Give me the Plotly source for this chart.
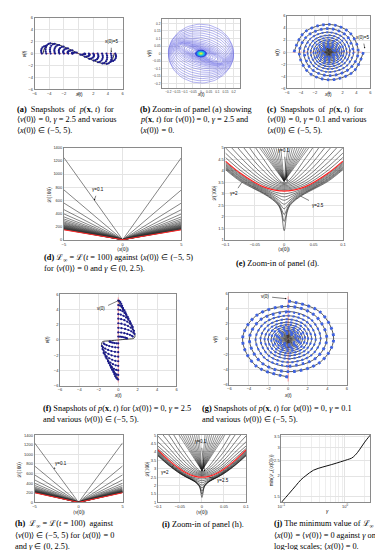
import numpy as np
import plotly.graph_objects as go

W, H = 383, 550

# ---------------- data ----------------
# (a) gamma = 2.5, <v(0)> = 0, various <x(0)>
a_curve_x = [-4.85, -4.6, -4.2, -3.8, -3.2, -2.4, -1.6, -0.8, 0.0, 0.8, 1.6, 2.4, 3.2, 3.8, 4.2, 4.6, 4.85]
a_curve_v = [0.0, 1.0, 1.55, 1.72, 1.65, 1.35, 0.95, 0.5, 0.0, -0.5, -0.95, -1.35, -1.65, -1.72, -1.55, -1.0, 0.0]
a_hook_x0 = [-5.0, -4.4, -3.8, -3.2, -2.6, -2.0, -1.4, -0.8, 0.8, 1.4, 2.0, 2.6, 3.2, 3.8, 4.4, 5.0]
a_hook_h = [1.3, 1.72, 1.65, 1.45, 1.17, 0.87, 0.53, 0.18, -0.18, -0.53, -0.87, -1.17, -1.45, -1.65, -1.72, -1.3]
a_hook_dx = [0.0, -0.08, -0.1, -0.05, 0.08, 0.3, 0.55]
a_hook_fr = [0.0, 0.2, 0.4, 0.6, 0.8, 0.95, 1.0]

# (b) zoom-in: covariance ellipses (semi-axes, tilt in degrees)
b_major = [0.20, 0.20, 0.195, 0.19, 0.185, 0.18, 0.175, 0.17, 0.165, 0.16, 0.155, 0.15, 0.145, 0.14, 0.13, 0.12, 0.11, 0.095, 0.08, 0.065, 0.05, 0.04]
b_minor = [0.195, 0.18, 0.165, 0.15, 0.135, 0.12, 0.105, 0.092, 0.08, 0.07, 0.062, 0.055, 0.048, 0.043, 0.038, 0.034, 0.03, 0.026, 0.022, 0.019, 0.016, 0.013]
b_tilt = [3, 6, 8, 10, 12, 14, 16, 17, 18, 19, 20, 21, 21, 22, 22, 22, 22, 22, 22, 22, 22, 22]
b_blob_rx = [0.036, 0.027, 0.019, 0.012, 0.006]
b_blob_ry = [0.025, 0.019, 0.014, 0.009, 0.0045]
b_blob_col = ['#2b3fd8', '#1f90ea', '#2ad2c4', '#98e25a', '#f6e83a']

# (c) gamma = 0.1 spiral: axis-crossing amplitudes, quarter turn by quarter turn
c_amp = [5.0, 4.6, 4.25, 3.9, 3.6, 3.3, 3.05, 2.8, 2.6, 2.4, 2.2, 2.03, 1.88, 1.73, 1.6, 1.47,
         1.35, 1.24, 1.14, 1.05, 0.97, 0.89, 0.82, 0.75, 0.69, 0.63, 0.57, 0.52, 0.47, 0.42,
         0.38, 0.34, 0.30, 0.26, 0.22, 0.18, 0.14, 0.10, 0.06]
# (g) gamma = 0.1 spiral started on the v axis
g_amp = [5.0, 4.65, 4.3, 3.95, 3.62, 3.32, 3.06, 2.82, 2.6, 2.4, 2.21, 2.04, 1.88, 1.73, 1.6, 1.47,
         1.35, 1.24, 1.14, 1.05, 0.97, 0.89, 0.82, 0.75, 0.69, 0.63, 0.57, 0.52, 0.47, 0.42,
         0.38, 0.34, 0.30, 0.26, 0.22, 0.18, 0.14, 0.10, 0.06]

# (d) L(100) at <x(0)> = +-5 for the gamma family, and the red (gamma = 2) line
d_end = [1250, 760, 560, 460, 395, 350, 318, 293, 272, 256, 242, 230, 220, 211, 203, 196, 190, 185, 180, 175, 171, 167, 164, 161, 158]
d_red_end = 153
d_vertex = 3

# (e) zoom-in of (d): half-curve values at these |<x(0)>|
e_xh = [0.0, 0.005, 0.01, 0.02, 0.035, 0.05, 0.075, 0.1]
e_red = [3.12, 3.124, 3.136, 3.18, 3.30, 3.49, 3.90, 4.42]
e_low = [
    [3.00, 3.01, 3.04, 3.11, 3.26, 3.45, 3.86, 4.37],
    [2.87, 2.89, 2.94, 3.04, 3.22, 3.41, 3.81, 4.32],
    [2.72, 2.76, 2.84, 2.98, 3.18, 3.37, 3.76, 4.27],
    [2.55, 2.62, 2.74, 2.92, 3.14, 3.33, 3.72, 4.22],
    [2.35, 2.48, 2.66, 2.87, 3.10, 3.29, 3.67, 4.17],
    [2.10, 2.36, 2.59, 2.82, 3.06, 3.26, 3.63, 4.13],
    [1.80, 2.27, 2.54, 2.78, 3.03, 3.23, 3.59, 4.09],
    [1.40, 2.20, 2.50, 2.75, 3.00, 3.20, 3.55, 4.05]]
e_up = [
    [3.16, 3.165, 3.18, 3.23, 3.37, 3.58, 4.03, 4.58],
    [3.20, 3.21, 3.23, 3.29, 3.45, 3.69, 4.18, 4.77],
    [3.25, 3.26, 3.28, 3.36, 3.55, 3.82, 4.37, 5.0],
    [3.30, 3.31, 3.34, 3.44, 3.67, 3.98, 4.60, 5.3],
    [3.35, 3.36, 3.40, 3.53, 3.81, 4.17, 4.88, 5.65],
    [3.40, 3.42, 3.47, 3.64, 3.99, 4.40, 5.2, 6.0],
    [3.44, 3.47, 3.55, 3.78, 4.21, 4.68, 5.6, 6.5],
    [3.48, 3.52, 3.64, 3.95, 4.50, 5.05, 6.1, 7.1]]
e_steep_xt = [0.006, 0.010, 0.014, 0.018, 0.022, 0.026, 0.030, 0.034, 0.038, 0.042]
e_steep_min = 3.55

# (f) gamma = 2.5, <x(0)> = 0, various <v(0)>
f_curve_x = [0.0, 0.3, 0.6, 1.0, 1.35, 1.6, 1.72, 1.6, 1.0, 0.4, 0.0, -0.4, -1.0, -1.6, -1.72, -1.6, -1.35, -1.0, -0.6, -0.3, 0.0]
f_curve_v = [5.2, 4.4, 3.7, 2.8, 1.9, 1.1, 0.45, 0.22, 0.12, 0.05, 0.0, -0.05, -0.12, -0.22, -0.45, -1.1, -1.9, -2.8, -3.7, -4.4, -5.2]
f_hook_v0 = [5.2, 4.6, 4.0, 3.4, 2.8, 2.2, 1.6, 1.0, 0.45, -0.45, -1.0, -1.6, -2.2, -2.8, -3.4, -4.0, -4.6, -5.2]
f_hook_w = [0.5, 0.8, 1.05, 1.3, 1.5, 1.62, 1.68, 1.5, 0.9, -0.9, -1.5, -1.68, -1.62, -1.5, -1.3, -1.05, -0.8, -0.5]
f_hook_drop = [1.2, 1.2, 1.2, 1.2, 1.1, 1.0, 0.8, 0.55, 0.25, -0.25, -0.55, -0.8, -1.0, -1.1, -1.2, -1.2, -1.2, -1.2]
f_hook_fx = [0.0, 0.2, 0.42, 0.62, 0.8, 0.93, 1.0]
f_hook_fd = [0.0, 0.05, 0.18, 0.36, 0.58, 0.8, 1.0]

# (h) L(100) at <v(0)> = +-5
h_end = [1240, 760, 575, 470, 400, 355, 322, 300, 283, 270, 259, 250, 243, 237, 232, 227, 223, 219, 216, 213, 210, 208]
h_red_end = 202
h_vertex = 3

# (i) zoom-in of (h)
i_red = [2.50, 2.505, 2.52, 2.58, 2.75, 2.99, 3.50, 4.12]
i_low = [
    [2.40, 2.41, 2.43, 2.50, 2.68, 2.92, 3.44, 4.06],
    [2.29, 2.31, 2.35, 2.44, 2.63, 2.87, 3.39, 4.00],
    [2.17, 2.21, 2.27, 2.39, 2.59, 2.83, 3.34, 3.95],
    [2.03, 2.10, 2.20, 2.35, 2.56, 2.80, 3.30, 3.90],
    [1.87, 2.01, 2.15, 2.32, 2.53, 2.77, 3.26, 3.86],
    [1.68, 1.95, 2.12, 2.31, 2.51, 2.75, 3.23, 3.82],
    [1.50, 1.92, 2.11, 2.30, 2.50, 2.73, 3.21, 3.79],
    [1.30, 1.90, 2.10, 2.30, 2.50, 2.72, 3.20, 3.77]]
i_up = [
    [2.55, 2.555, 2.57, 2.64, 2.82, 3.08, 3.62, 4.20],
    [2.60, 2.61, 2.63, 2.71, 2.91, 3.19, 3.78, 4.35],
    [2.65, 2.66, 2.69, 2.79, 3.02, 3.33, 3.98, 4.6],
    [2.70, 2.71, 2.75, 2.88, 3.15, 3.51, 4.24, 4.95],
    [2.75, 2.77, 2.82, 2.98, 3.32, 3.74, 4.57, 5.4],
    [2.80, 2.83, 2.90, 3.11, 3.54, 4.03, 5.0, 5.9],
    [2.84, 2.88, 2.99, 3.28, 3.82, 4.40, 5.5, 6.6]]
i_steep_xt = [0.007, 0.012, 0.017, 0.022, 0.027, 0.032, 0.037, 0.042, 0.047, 0.052]
i_steep_min = 2.9

# (j) minimum of L_inf against gamma (log-log)
j_gamma = [0.1, 0.13, 0.17, 0.204, 0.243, 0.32, 0.45, 0.62, 0.85, 1.1, 1.27, 1.43, 1.58, 1.80, 2.04, 2.3, 2.5]
j_min = [1.38, 1.55, 1.75, 1.90, 2.01, 2.17, 2.27, 2.35, 2.44, 2.52, 2.57, 2.67, 2.79, 3.0, 3.22, 3.42, 3.55]

# ---------------- figure ----------------
fig = go.Figure()


def xr(n):
    return 'x' if n == 1 else f'x{n}'


def yr(n):
    return 'y' if n == 1 else f'y{n}'


def trace(n, x, y, color='#000', width=0.6, dash=None, shape='linear', smoothing=1.0,
          mode='lines', marker=None):
    ld = dict(color=color, width=width, shape=shape)
    if shape == 'spline':
        ld['smoothing'] = smoothing
    if dash:
        ld['dash'] = dash
    kw = dict(x=x, y=y, xaxis=xr(n), yaxis=yr(n), mode=mode, line=ld,
              showlegend=False, hoverinfo='skip')
    if marker:
        kw['marker'] = marker
    fig.add_trace(go.Scatter(**kw))


def mirror(xh, vals):
    xs = [-v for v in xh[:0:-1]] + list(xh)
    ys = list(vals[:0:-1]) + list(vals)
    return xs, ys


def spiral_pts(amps, quad, sign=1):
    """axis crossings plus the 45-degree point between consecutive crossings"""
    xs, ys = [], []
    for k, a in enumerate(amps):
        ux, uy = quad[k % 4]
        xs.append(sign * a * ux)
        ys.append(sign * a * uy)
        if k + 1 < len(amps):
            vx, vy = quad[(k + 1) % 4]
            b = amps[k + 1]
            xs.append(sign * 0.7071 * (a * ux + b * vx))
            ys.append(sign * 0.7071 * (a * uy + b * vy))
    return xs, ys


NAVY = '#1c1c8a'
BLUE = '#3f63e0'

# (a)
trace(1, [-5.2, 5.2], [0, 0], color='#ff7070', width=0.6, dash='dot')
trace(1, a_curve_x, a_curve_v, color='#111', width=0.8, shape='spline')
hx, hy = [], []
for x0, h in zip(a_hook_x0, a_hook_h):
    s = 1 if x0 < 0 else -1
    for dx, fr in zip(a_hook_dx, a_hook_fr):
        hx.append(x0 + s * dx)
        hy.append(h * fr)
    hx.append(None)
    hy.append(None)
trace(1, hx, hy, color=NAVY, width=0.7, shape='spline', mode='lines+markers',
      marker=dict(size=2.2, color=NAVY))

# (b)
tt = np.linspace(0, 2 * np.pi, 73)
bx, by = [], []
for a, b, tilt in zip(b_major, b_minor, b_tilt):
    th = np.deg2rad(tilt)
    ex = a * np.cos(tt) * np.cos(th) + b * np.sin(tt) * np.sin(th)
    ey = -a * np.cos(tt) * np.sin(th) + b * np.sin(tt) * np.cos(th)
    bx += list(ex) + [None]
    by += list(ey) + [None]
trace(2, bx, by, color='rgba(70,70,220,0.75)', width=0.55)

# (c)
quad_c = [(1, 0), (0, -1), (-1, 0), (0, 1)]
trace(3, [-5.2, 5.2], [0, 0], color='#ff7070', width=0.6, dash='dot')
c_sp = [spiral_pts(c_amp, quad_c, 1), spiral_pts(c_amp, quad_c, -1)]
for sx, sy in c_sp:
    trace(3, sx, sy, color='#111', width=0.7, shape='spline')
for sx, sy in c_sp:
    trace(3, sx[:9], sy[:9], color=BLUE, width=2.7, shape='spline', dash='2.4px,3.6px')
    trace(3, sx[8:50], sy[8:50], color=BLUE, width=1.8, shape='spline', dash='2px,2.6px')

# (d)
for v in d_end:
    trace(4, [-5, 0, 5], [v, d_vertex, v], color='#333', width=0.6)
trace(4, [-5, 0, 5], [d_red_end, d_vertex, d_red_end], color='#ff2a2a', width=1.0)

# (e)
for xt in e_steep_xt:
    trace(5, [-xt, 0, xt], [5.0, e_steep_min, 5.0], color='#222', width=0.5)
for vals in e_up + e_low:
    xs, ys = mirror(e_xh, vals)
    trace(5, xs, ys, color='#111', width=0.55, shape='spline')
xs, ys = mirror(e_xh, e_red)
trace(5, xs, ys, color='#ff1f1f', width=1.2, shape='spline')

# (f)
trace(6, [0, 0], [-5.6, 5.6], color='#ff6060', width=0.6)
trace(6, f_curve_x, f_curve_v, color='#111', width=0.8, shape='spline')
fx, fy = [], []
for v0, w, dr in zip(f_hook_v0, f_hook_w, f_hook_drop):
    for a, d in zip(f_hook_fx, f_hook_fd):
        fx.append(w * a)
        fy.append(v0 - dr * d)
    fx.append(None)
    fy.append(None)
trace(6, fx, fy, color=NAVY, width=0.7, shape='spline', mode='lines+markers',
      marker=dict(size=2.2, color=NAVY))

# (g)
quad_g = [(0, 1), (1, 0), (0, -1), (-1, 0)]
trace(7, [0, 0], [-5.6, 5.6], color='#ff6060', width=0.6)
g_sp = [spiral_pts(g_amp, quad_g, 1), spiral_pts(g_amp, quad_g, -1)]
for sx, sy in g_sp:
    trace(7, sx, sy, color='#111', width=0.7, shape='spline')
for sx, sy in g_sp:
    trace(7, sx[:9], sy[:9], color=BLUE, width=2.9, shape='spline', dash='2.6px,4px')
    trace(7, sx[8:50], sy[8:50], color=BLUE, width=2.0, shape='spline', dash='2.2px,2.8px')

# (h)
for v in h_end:
    trace(8, [-5, 0, 5], [v, h_vertex, v], color='#333', width=0.6)
trace(8, [-5, 0, 5], [h_red_end, h_vertex, h_red_end], color='#ff2a2a', width=1.0)

# (i)
for xt in i_steep_xt:
    trace(9, [-xt, 0, xt], [5.0, i_steep_min, 5.0], color='#222', width=0.5)
for vals in i_up + i_low:
    xs, ys = mirror(e_xh, vals)
    trace(9, xs, ys, color='#111', width=0.55, shape='spline')
xs, ys = mirror(e_xh, i_red)
trace(9, xs, ys, color='#ff1f1f', width=1.2, shape='spline')

# (j)
trace(10, j_gamma, j_min, color='#111', width=1.0, shape='spline')

# ---------------- axes ----------------
TICKF = dict(size=4, color='#333', family='Liberation Sans')


def axis(domain, rng, tickvals, anchor, ticktext=None, typ='linear', fsize=4):
    d = dict(domain=domain, range=rng, tickvals=tickvals, anchor=anchor, type=typ,
             showgrid=True, gridcolor='#e4e4e4', gridwidth=0.5,
             showline=True, linecolor='#8a8a8a', linewidth=0.6, mirror=True,
             ticks='', tickfont=dict(TICKF, size=fsize), tickangle=0, zeroline=False,
             fixedrange=True)
    if ticktext is not None:
        d['ticktext'] = ticktext
    return d


six = [-6, -4, -2, 0, 2, 4, 6]
bt = [-0.2, -0.15, -0.1, -0.05, 0, 0.05, 0.1, 0.15, 0.2]
lt = list(range(0, 1401, 200))
et = [-0.1, -0.05, 0, 0.05, 0.1]
eyt = [1, 1.5, 2, 2.5, 3, 3.5, 4, 4.5, 5]
panels = [
    # n, left, right, top, bottom, xrange, yrange, xticks, yticks, fontsize
    (1, 23, 113, 7, 79, [-6, 6], [-6, 6], six, six, 4),
    (2, 153, 233, 8, 78, [-0.24, 0.24], [-0.23, 0.23], bt, bt, 3.1),
    (3, 281, 366, 5, 78, [-6, 6], [-6, 6], six, six, 4),
    (4, 53, 173, 138, 231, [-5, 5], [0, 1400], [-5, 0, 5], lt, 4),
    (5, 218, 338, 138, 231, [-0.1, 0.1], [1, 5], et, eyt, 4),
    (6, 49, 168, 286, 378, [-6, 6], [-6, 6], six, six, 4),
    (7, 222, 342, 285, 377, [-6, 6], [-6, 6], six, six, 4),
    (8, 23, 113, 428, 496, [-5, 5], [0, 1400], [-5, 0, 5], lt, 4),
    (9, 149, 239, 428, 496, [-0.1, 0.1], [1, 5], et, eyt, 4),
]
lay = {}
for n, l, r, t, b, xrg, yrg, xt, yt, fs in panels:
    xa = 'xaxis' if n == 1 else f'xaxis{n}'
    ya = 'yaxis' if n == 1 else f'yaxis{n}'
    lay[xa] = axis([l / W, r / W], xrg, xt, yr(n), fsize=fs)
    lay[ya] = axis([1 - b / H, 1 - t / H], yrg, yt, xr(n), fsize=fs)

lay['xaxis10'] = axis([275 / W, 366 / W], [-1, np.log10(2.5)], [0.1, 1], 'y10',
                      ['10<sup>−1</sup>', '10<sup>0</sup>'], 'log')
lay['xaxis10']['minor'] = dict(tickvals=[0.2, 0.3, 0.4, 0.5, 0.6, 0.7, 0.8, 0.9, 2],
                               showgrid=True, gridcolor='#eeeeee', gridwidth=0.4, ticks='')
lay['yaxis10'] = axis([1 - 496 / H, 1 - 428 / H], [np.log10(1.38), np.log10(3.55)],
                      [1.5, 2, 2.5, 3, 3.5], 'x10', ['1.5', '2', '2.5', '3', '3.5'], 'log')

shapes = []
for rx, ry, col in zip(b_blob_rx, b_blob_ry, b_blob_col):
    shapes.append(dict(type='circle', xref='x2', yref='y2', x0=-rx, x1=rx, y0=-ry, y1=ry,
                       fillcolor=col, line=dict(width=0), layer='above'))

fig.update_layout(width=W, height=H, margin=dict(l=0, r=0, t=0, b=0),
                  paper_bgcolor='white', plot_bgcolor='white', showlegend=False,
                  shapes=shapes, **lay)


# ---------------- text ----------------
def ptext(x, y, text, size=8.3, family='Liberation Serif', xanchor='left', angle=0):
    fig.add_annotation(x=x / W, y=1 - y / H, xref='paper', yref='paper', text=text,
                       showarrow=False, xanchor=xanchor, yanchor='middle', textangle=angle,
                       font=dict(size=size, family=family, color='#000'), borderpad=0)


S = '\u00a0'
pxt = '<i>p</i>(<b>x</b>, <i>t</i>)'
v0 = '⟨<i>v</i>(0)⟩'
x0 = '⟨<i>x</i>(0)⟩'
Linf = 'ℒ<sub>∞</sub>'
captions = [
    (4, 99.5, f'<b>(a)</b>{S*2}Snapshots{S*2}of{S*2}{pxt}{S*2}for'),
    (4, 110, f'{v0} = 0, <i>γ</i> = 2.5 and various'),
    (4, 121, f'{x0} ∈ (−5, 5).'),
    (130, 99.5, '<b>(b)</b> Zoom-in of panel (a) showing'),
    (130, 110, f'{pxt} for {v0} = 0, <i>γ</i> = 2.5 and'),
    (130, 121, f'{x0} = 0.'),
    (259, 99.5, f'<b>(c)</b>{S*2}Snapshots{S*2}of{S*2}{pxt}{S*2}for'),
    (259, 110, f'{v0} = 0, <i>γ</i> = 0.1 and various'),
    (259, 121, f'{x0} ∈ (−5, 5).'),
    (32, 249, f'<b>(d)</b> {Linf} = ℒ(<i>t</i> = 100) against {x0} ∈ (−5, 5)'),
    (32, 260, f'for {v0} = 0 and <i>γ</i> ∈ (0, 2.5).'),
    (228, 255, '<b>(e)</b> Zoom-in of panel (d).'),
    (31, 401, f'<b>(f)</b> Snapshots of {pxt} for {x0} = 0, <i>γ</i> = 2.5'),
    (31, 412, f'and various {v0} ∈ (−5, 5).'),
    (193, 401, f'<b>(g)</b> Snapshots of {pxt} for {x0} = 0, <i>γ</i> = 0.1'),
    (193, 412, f'and various {v0} ∈ (−5, 5).'),
    (2, 518, f'<b>(h)</b>{S*2}{Linf}{S}={S}ℒ(<i>t</i>{S}={S}100){S*2}against'),
    (2, 529, f'{v0}{S}∈{S}(−5, 5){S}for{S}{x0}{S}={S}0'),
    (2, 540, 'and <i>γ</i> ∈ (0, 2.5).'),
    (152, 518, '<b>(i)</b> Zoom-in of panel (h).'),
    (267, 518, f'<b>(j)</b> The minimum value of {Linf} at'),
    (267, 529, f'{x0} = {v0} = 0 against <i>γ</i> on'),
    (267, 540, f'log-log scales; {x0} = 0.'),
]
for x, y, t in captions:
    ptext(x, y, t)

# axis titles
SANS = 'Liberation Sans'
small = [
    (68, 84, '<i>x</i>(<i>t</i>)', 0), (13, 43, '<i>v</i>(<i>t</i>)', -90),
    (193, 84, '<i>x</i>(<i>t</i>)', 0), (141, 43, '<i>v</i>(<i>t</i>)', -90),
    (323, 84, '<i>x</i>(<i>t</i>)', 0), (271, 42, '<i>v</i>(<i>t</i>)', -90),
    (108, 388, '<i>x</i>(<i>t</i>)', 0), (37, 332, '<i>v</i>(<i>t</i>)', -90),
    (282, 388, '<i>x</i>(<i>t</i>)', 0), (208, 331, '<i>v</i>(<i>t</i>)', -90),
    (322, 505, '<i>γ</i>', 0), (265, 463, f'min({Linf}({x0}))', -90),
]
for x, y, t, ang in small:
    ptext(x, y, t, size=4.6, family=SANS, xanchor='center', angle=ang)
serif_lab = [
    (113, 241, x0, 0), (278, 241, x0, 0), (68, 506, v0, 0), (194, 506, v0, 0),
    (38, 185, 'ℒ(100)', -90), (207, 184, 'ℒ(100)', -90), (8, 463, 'ℒ(100)', -90),
    (139, 462, 'ℒ(100)', -90),
]
for x, y, t, ang in serif_lab:
    ptext(x, y, t, size=5.2, xanchor='center', angle=ang)


def arrow(n, x, y, ax, ay, text, head=2):
    fig.add_annotation(x=x, y=y, ax=ax, ay=ay, xref=xr(n), yref=yr(n), axref=xr(n), ayref=yr(n),
                       text=text, showarrow=True, arrowhead=head, arrowsize=0.6, arrowwidth=0.5,
                       arrowcolor='#000', font=dict(size=4.5, family=SANS, color='#000'),
                       standoff=0, startstandoff=2)


arrow(1, 4.45, 0.25, 4.45, 2.0, 'x(0)=5')
arrow(3, 5.2, 0.6, 4.9, 2.4, 'x(0)=5')
arrow(4, -2.42, 600, -2.1, 760, 'γ=0.1')
arrow(5, 0.005, 3.55, 0.0, 4.87, 'γ=0.1')
arrow(5, -0.072, 3.5, -0.085, 3.0, 'γ=2', head=0)
arrow(5, 0.028, 2.9, 0.058, 2.5, 'γ=2.5', head=0)
arrow(6, 0.05, 5.2, -1.8, 4.1, 'v(0)', head=0)
arrow(7, -0.15, 5.3, -2.4, 5.6, 'v(0)')
arrow(8, -2.8, 700, -2.0, 820, 'γ=0.1')
arrow(9, 0.006, 2.85, -0.002, 4.6, 'γ=0.1')
arrow(9, -0.064, 3.2, -0.083, 2.8, 'γ=2', head=0)
arrow(9, 0.017, 2.5, 0.048, 2.28, 'γ=2.5', head=0)

fig.write_html('out.html')
